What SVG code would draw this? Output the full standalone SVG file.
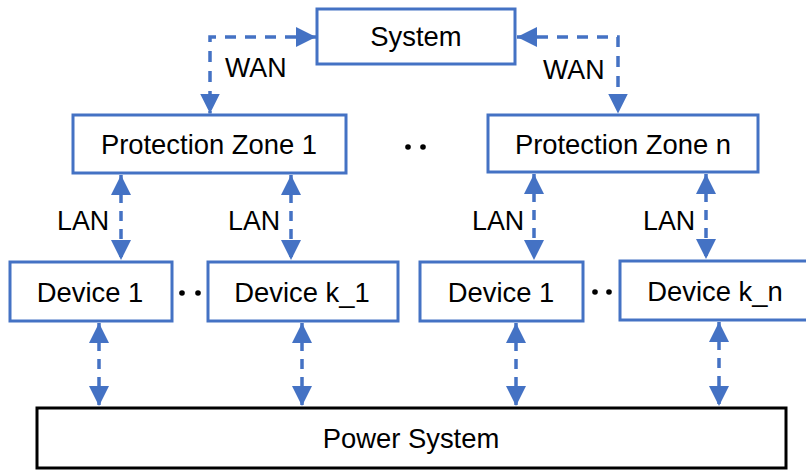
<svg xmlns="http://www.w3.org/2000/svg" width="806" height="470" viewBox="0 0 806 470">
<style>
.box{fill:#fff;stroke:#4472C4;stroke-width:3}
.pbox{fill:#fff;stroke:#000;stroke-width:3}
.t{font-family:"Liberation Sans",Arial,sans-serif;font-size:27.4px;fill:#000;text-anchor:middle}
.lbl{font-family:"Liberation Sans",Arial,sans-serif;font-size:26.8px;fill:#000}
.wan{fill:none;stroke:#4472C4;stroke-width:3.5;stroke-dasharray:11 9;marker-start:url(#ah);marker-end:url(#ah)}
.lan{fill:none;stroke:#4472C4;stroke-width:3.5;stroke-dasharray:10 8;marker-start:url(#ah);marker-end:url(#ah)}
.dot{fill:#000}
</style>
<defs>
<marker id="ah" markerUnits="userSpaceOnUse" markerWidth="20" markerHeight="20" viewBox="0 0 20 20" refX="20" refY="10" orient="auto-start-reverse">
<path d="M0,0 L20,10 L0,20 z" fill="#4472C4"/>
</marker>
</defs>
<rect width="806" height="470" fill="#fff"/>
<g id="connectors">
<path class="wan" d="M316,37 H210 V113.5"/>
<path class="wan" d="M517,37 H618 V113.5"/>
<path class="lan" d="M121,175 V260"/>
<path class="lan" d="M291,175 V260"/>
<path class="lan" d="M534,174 V260"/>
<path class="lan" d="M706,174 V259"/>
<path class="lan" d="M99,323 V406"/>
<path class="lan" d="M302,323 V406"/>
<path class="lan" d="M516,323 V406"/>
<path class="lan" d="M719,322 V406"/>
</g>
<g id="labels">
<text class="lbl" x="225" y="77">WAN</text>
<text class="lbl" x="543" y="79">WAN</text>
<text class="lbl" x="57" y="230">LAN</text>
<text class="lbl" x="228" y="230">LAN</text>
<text class="lbl" x="472" y="230">LAN</text>
<text class="lbl" x="643" y="230">LAN</text>
</g>
<g id="dots">
<circle class="dot" cx="408" cy="147" r="2.8"/>
<circle class="dot" cx="423" cy="147" r="2.8"/>
<circle class="dot" cx="182" cy="293" r="2.8"/>
<circle class="dot" cx="198" cy="293" r="2.8"/>
<circle class="dot" cx="595" cy="292" r="2.8"/>
<circle class="dot" cx="609" cy="292" r="2.8"/>
</g>
<g id="system">
<rect class="box" x="317" y="9" width="198" height="55"/>
<text class="t" x="416" y="46">System</text>
</g>
<g id="pz1">
<rect class="box" x="73" y="115" width="273" height="58"/>
<text class="t" x="209" y="154">Protection Zone 1</text>
</g>
<g id="pzn">
<rect class="box" x="488" y="115" width="270" height="57"/>
<text class="t" x="623" y="154">Protection Zone n</text>
</g>
<g id="dev1a">
<rect class="box" x="10" y="262" width="162" height="59"/>
<text class="t" x="90" y="302">Device 1</text>
</g>
<g id="devk1">
<rect class="box" x="208" y="262" width="190" height="59"/>
<text class="t" x="302" y="302">Device k_1</text>
</g>
<g id="dev1b">
<rect class="box" x="420" y="262" width="163" height="59"/>
<text class="t" x="501" y="302">Device 1</text>
</g>
<g id="devkn">
<rect class="box" x="620" y="261" width="200" height="59"/>
<text class="t" x="715" y="301">Device k_n</text>
</g>
<g id="power">
<rect class="pbox" x="37" y="408" width="749" height="60"/>
<text class="t" x="411" y="448">Power System</text>
</g>
</svg>
